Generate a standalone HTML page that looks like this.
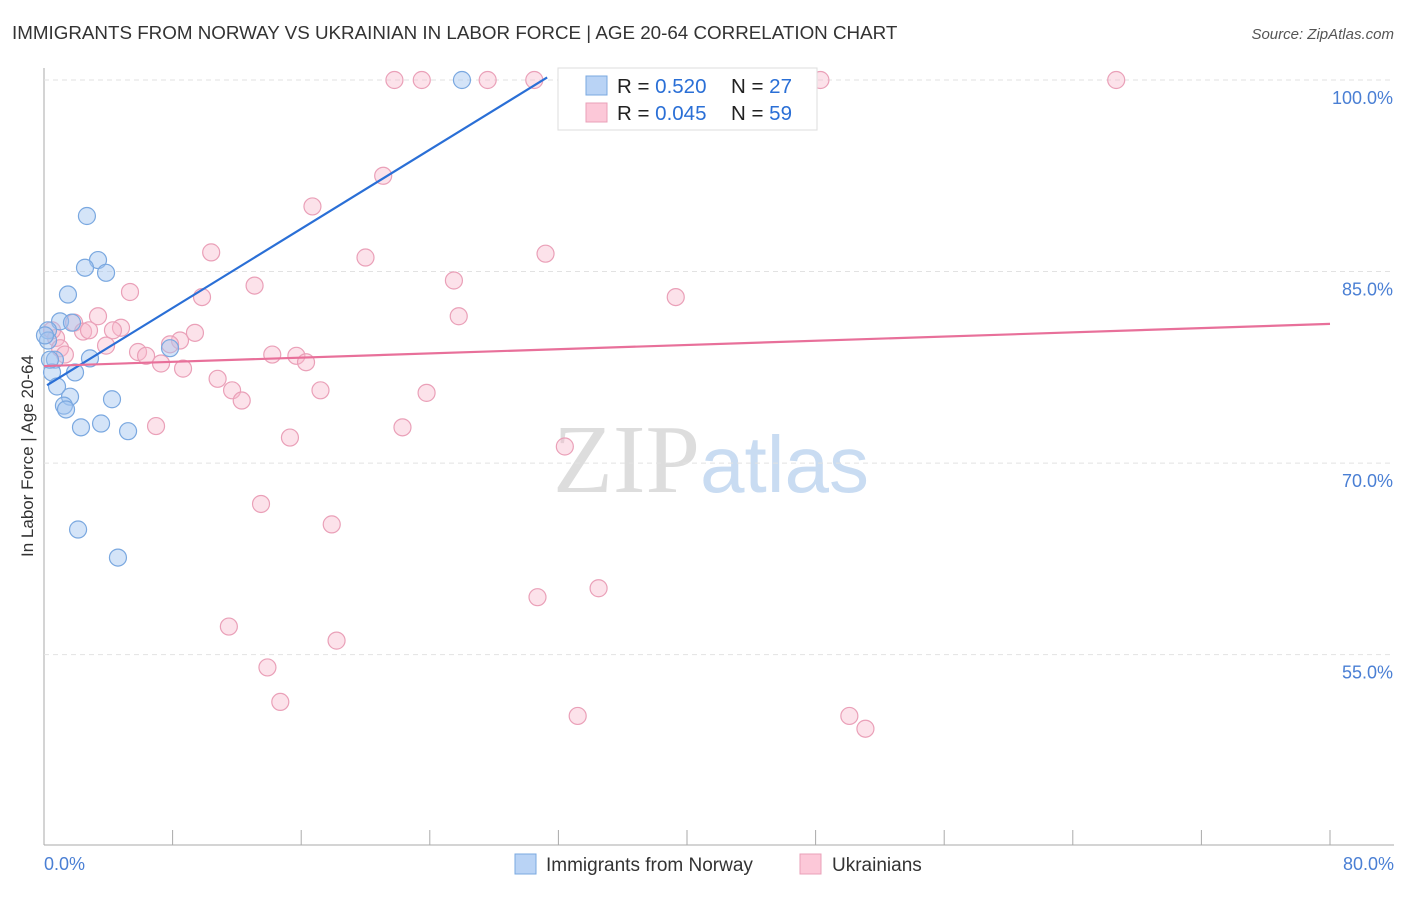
<!DOCTYPE html>
<html><head><meta charset="utf-8"><style>
body{margin:0;background:#fff;font-family:"Liberation Sans",sans-serif;}
</style></head><body>
<svg id="c" width="1406" height="892" xmlns="http://www.w3.org/2000/svg" style="font-family:'Liberation Sans',sans-serif">
<text x="12" y="39" font-size="18.8" fill="#333">IMMIGRANTS FROM NORWAY VS UKRAINIAN IN LABOR FORCE | AGE 20-64 CORRELATION CHART</text>
<text x="1394" y="39" font-size="15" fill="#555" text-anchor="end" font-style="italic">Source: ZipAtlas.com</text>
<text transform="translate(33,456) rotate(-90)" font-size="17" fill="#333" text-anchor="middle">In Labor Force | Age 20-64</text>
<text x="553" y="492" font-size="98" font-family="Liberation Serif" fill="#ddd">ZIP<tspan fill="#c9dcf2" font-family="Liberation Sans" font-size="80">atlas</tspan></text>
<g id="grid"></g><g id="pts"></g><g id="lines"></g>
<g>
<rect x="558" y="68" width="259" height="62" fill="#fff" stroke="#ddd"/>
<rect x="586" y="76" width="21" height="19" fill="#b9d3f5" stroke="#7aa8e0"/>
<rect x="586" y="103" width="21" height="19" fill="#fcc8d8" stroke="#eaa0b8"/>
<text x="617" y="93" font-size="20.5" fill="#222">R = <tspan fill="#2a6fd6">0.520</tspan><tspan x="731">N = </tspan><tspan fill="#2a6fd6">27</tspan></text>
<text x="617" y="120" font-size="20.5" fill="#222">R = <tspan fill="#2a6fd6">0.045</tspan><tspan x="731">N = </tspan><tspan fill="#2a6fd6">59</tspan></text>
</g>
<g>
<rect x="515" y="854" width="21" height="20" fill="#b9d3f5" stroke="#7aa8e0"/>
<text x="546" y="871" font-size="19" fill="#333">Immigrants from Norway</text>
<rect x="800" y="854" width="21" height="20" fill="#fcc8d8" stroke="#eaa0b8"/>
<text x="832" y="871" font-size="19" fill="#333">Ukrainians</text>
</g>
</svg>
<script>
const yTicks=[100,85,70,55];
const yTickLabels=["100.0%","85.0%","70.0%","55.0%"];
const xTickLabels=["0.0%","80.0%"];
const blueX=[26.0,2.67,3.36,2.55,3.86,1.49,1.0,1.74,0.25,0.25,7.84,0.68,2.86,1.93,0.5,0.81,1.62,1.24,1.37,4.23,3.55,2.3,5.23,2.12,4.6,0.37,0.06];
const blueY=[100,89.35,85.9,85.3,84.9,83.2,81.1,81.0,80.4,79.6,79.0,78.1,78.2,77.1,77.1,76.0,75.2,74.5,74.2,75.0,73.1,72.8,72.5,64.8,62.6,78.1,80.0];
const pinkX=[21.8,23.5,27.6,30.5,36.6,48.3,66.7,21.1,16.7,10.4,31.2,20.0,25.5,13.1,5.35,9.83,39.3,25.8,3.36,1.87,4.79,4.29,2.43,2.8,9.39,8.46,0.75,3.86,7.84,5.85,6.35,7.28,14.2,15.7,16.3,8.65,10.8,11.7,17.2,12.3,23.8,6.97,15.3,22.3,32.4,13.5,17.9,30.7,34.5,11.5,18.2,13.9,14.7,33.2,50.1,51.1,0.5,1.0,1.3];
const pinkY=[100,100,100,100,100,100,100,92.5,90.1,86.5,86.4,86.1,84.3,83.9,83.4,83.0,83.0,81.5,81.5,81.0,80.6,80.4,80.3,80.4,80.2,79.6,79.8,79.2,79.3,78.7,78.4,77.8,78.5,78.4,77.9,77.4,76.6,75.7,75.7,74.9,75.5,72.9,72.0,72.8,71.3,66.8,65.2,59.5,60.2,57.2,56.1,54.0,51.3,50.2,50.2,49.2,80.4,79.0,78.5];
const blueLine=[[0.19,76.1],[31.3,100.2]];
const pinkLine=[[0,77.6],[80,80.9]];
const NS="http://www.w3.org/2000/svg";
const sx=v=>44+v*16.075, sy=v=>80+(100-v)*12.77;
function mk(t,a,p){const e=document.createElementNS(NS,t);for(const k in a)e.setAttribute(k,a[k]);p.appendChild(e);return e;}
const g=document.getElementById('grid');
let ax=mk('line',{x1:44,y1:68,x2:44,y2:845,stroke:'#aaa'},g);


let bx=mk('line',{x1:44,y1:845,x2:1394,y2:845,stroke:'#aaa'},g);


yTicks.forEach((v,i)=>{
 let l=mk('line',{x1:44,y1:sy(v),x2:1394,y2:sy(v),stroke:'#e2e2e2','stroke-dasharray':'5,4'},g);
 
 
 let t=mk('text',{x:1393,y:sy(v)+24,'font-size':18,fill:'#4a7fd4','text-anchor':'end'},g);t.textContent=yTickLabels[i];
 
 
});
for(let i=0;i<=10;i++){let l=mk('line',{x1:sx(i*8),y1:830,x2:sx(i*8),y2:845,stroke:'#aaa'},g);
 
 }
[[0,'start',44],[80,'end',1394]].forEach((d,i)=>{let t=mk('text',{x:d[2],y:870,'font-size':18,fill:'#4a7fd4','text-anchor':d[1]},g);t.textContent=xTickLabels[i];
 
 });
const p=document.getElementById('pts');
pinkX.forEach((x,i)=>{let c=mk('circle',{cx:sx(x),cy:sy(pinkY[i]),r:8.5,fill:'rgba(248,182,202,0.4)',stroke:'#eaa0b8','stroke-width':1.2},p);
 
 });
blueX.forEach((x,i)=>{let c=mk('circle',{cx:sx(x),cy:sy(blueY[i]),r:8.5,fill:'rgba(160,196,240,0.45)',stroke:'#7aa8e0','stroke-width':1.2},p);
 
 });
const L=document.getElementById('lines');
let b=mk('line',{x1:sx(blueLine[0][0]),y1:sy(blueLine[0][1]),x2:sx(blueLine[1][0]),y2:sy(blueLine[1][1]),stroke:'#2a6fd6','stroke-width':2.2},L);


let k=mk('line',{x1:sx(pinkLine[0][0]),y1:sy(pinkLine[0][1]),x2:sx(pinkLine[1][0]),y2:sy(pinkLine[1][1]),stroke:'#e8709a','stroke-width':2.2},L);


</script>
</body></html>
